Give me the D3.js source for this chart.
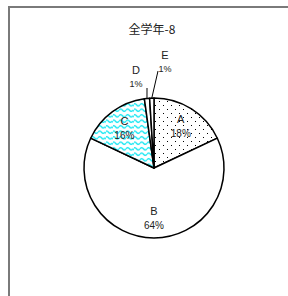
<!DOCTYPE html>
<html>
<head>
<meta charset="utf-8">
<script src="https://cdn.jsdelivr.net/npm/d3@7"></script>
<style>
  body { margin: 0; background: #fff; }
  svg { display: block; }
</style>
</head>
<body>
<div id="chart"></div>
<script>
var title = "全学年-8";
var categories = ["A", "B", "C", "D", "E"];
var values = [18.0, 64.0, 15.8, 1.2, 1.0];
var percentLabels = ["18%", "64%", "16%", "1%", "1%"];

var width = 288, height = 296;
var cx = 154, cy = 168, radius = 70;

var svg = d3.select("#chart").append("svg")
    .attr("width", width)
    .attr("height", height);

var defs = svg.append("defs");

// dotted fill for A
var dots = defs.append("pattern")
    .attr("id", "dots")
    .attr("patternUnits", "userSpaceOnUse")
    .attr("width", 8).attr("height", 8);
dots.append("rect").attr("width", 8).attr("height", 8).attr("fill", "#fff");
dots.append("rect").attr("x", 1).attr("y", 1).attr("width", 1).attr("height", 1).attr("fill", "#000");
dots.append("rect").attr("x", 5).attr("y", 5).attr("width", 1).attr("height", 1).attr("fill", "#000");

// cyan wave fill for C
var wave = defs.append("pattern")
    .attr("id", "wave")
    .attr("patternUnits", "userSpaceOnUse")
    .attr("width", 7).attr("height", 5.5);
wave.append("rect").attr("width", 7).attr("height", 5.5).attr("fill", "#fff");
wave.append("path")
    .attr("d", "M0,2.75 Q1.75,0.5 3.5,2.75 T7,2.75")
    .attr("fill", "none")
    .attr("stroke", "#10e6f2")
    .attr("stroke-width", 1.3);

var fills = ["url(#dots)", "#fff", "url(#wave)", "#fff", "#fff"];

// frame
svg.append("rect")
    .attr("x", 9).attr("y", 7)
    .attr("width", 300).attr("height", 300)
    .attr("fill", "none")
    .attr("stroke", "#7a7a7a")
    .attr("stroke-width", 2);

svg.append("text")
    .attr("x", 152).attr("y", 34)
    .attr("text-anchor", "middle")
    .attr("font-family", "'Noto Sans CJK JP', sans-serif")
    .attr("font-size", 12)
    .attr("fill", "#222")
    .text(title);

var data = categories.map(function(c, i) { return {name: c, value: values[i], label: percentLabels[i], fill: fills[i]}; });

var pie = d3.pie().sort(null).value(function(d) { return d.value; });
var arc = d3.arc().innerRadius(0).outerRadius(radius);
var labelArc = d3.arc().innerRadius(50).outerRadius(50);
var edgeArc = d3.arc().innerRadius(radius).outerRadius(radius);

var g = svg.append("g").attr("transform", "translate(" + cx + "," + cy + ")");
var arcs = pie(data);

g.selectAll("path.slice")
    .data(arcs)
    .enter().append("path")
    .attr("class", "slice")
    .attr("d", arc)
    .attr("fill", function(d) { return d.data.fill; })
    .attr("stroke", "#000")
    .attr("stroke-width", 1.5)
    .attr("stroke-linejoin", "round");

var font = "'Liberation Sans', Arial, sans-serif";

// inside labels for big slices
var inside = arcs.filter(function(d) { return d.data.value > 5; });
var il = g.selectAll("g.lab").data(inside).enter().append("g")
    .attr("transform", function(d) { var c = labelArc.centroid(d); return "translate(" + c[0] + "," + c[1] + ")"; });
il.append("text").attr("y", -3).attr("text-anchor", "middle")
    .attr("font-family", font).attr("font-size", 11).attr("fill", "#222")
    .text(function(d) { return d.data.name; });
il.append("text").attr("y", 11).attr("text-anchor", "middle")
    .attr("font-family", font).attr("font-size", 10).attr("fill", "#222")
    .text(function(d) { return d.data.label; });

// outside labels for small slices, moved off with leader lines
var offsets = {D: [-18, -91], E: [11, -106]};
var leaderEnd = {D: [-7, -80], E: [4, -97]};
var outside = arcs.filter(function(d) { return d.data.value <= 5; });
g.selectAll("line.leader").data(outside).enter().append("line")
    .attr("x1", function(d) { return edgeArc.centroid(d)[0]; })
    .attr("y1", function(d) { return edgeArc.centroid(d)[1]; })
    .attr("x2", function(d) { return leaderEnd[d.data.name][0]; })
    .attr("y2", function(d) { return leaderEnd[d.data.name][1]; })
    .attr("stroke", "#000").attr("stroke-width", 1);
var ol = g.selectAll("g.olab").data(outside).enter().append("g")
    .attr("transform", function(d) { var o = offsets[d.data.name]; return "translate(" + o[0] + "," + o[1] + ")"; });
ol.append("text").attr("y", -3).attr("text-anchor", "middle")
    .attr("font-family", font).attr("font-size", 11).attr("fill", "#222")
    .text(function(d) { return d.data.name; });
ol.append("text").attr("y", 10).attr("text-anchor", "middle")
    .attr("font-family", font).attr("font-size", 9).attr("fill", "#222")
    .text(function(d) { return d.data.label; });
</script>
</body>
</html>
